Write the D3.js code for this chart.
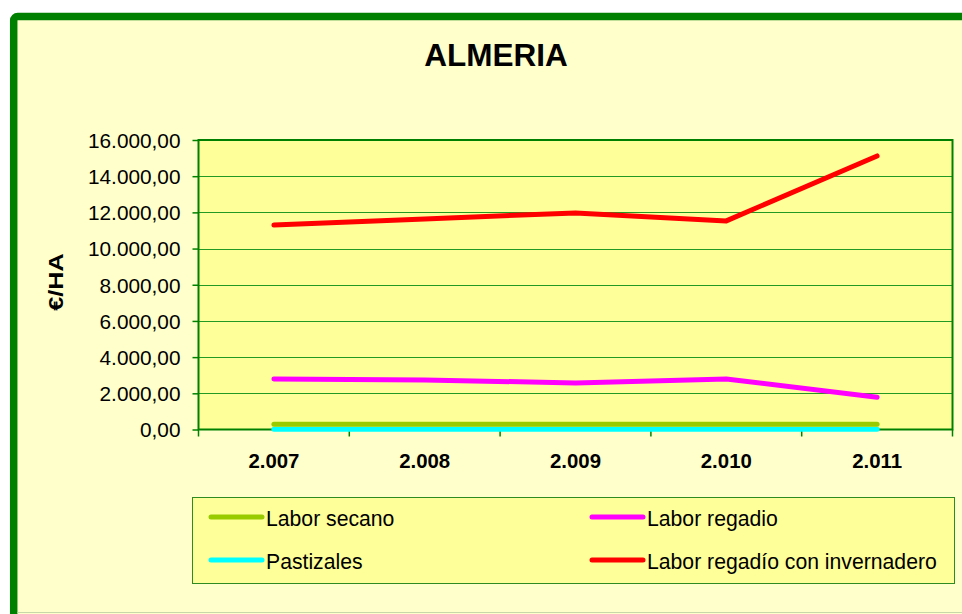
<!DOCTYPE html>
<html>
<head>
<meta charset="utf-8">
<script src="https://cdn.jsdelivr.net/npm/d3@7"></script>
<style>
  body { margin: 0; background: #fff; }
  text { font-family: "Liberation Sans", Arial, sans-serif; fill: #000; }
</style>
</head>
<body>
<svg class="chart"></svg>
<script>
var years = ["2.007", "2.008", "2.009", "2.010", "2.011"];
var laborSecano = [290, 290, 290, 290, 290];
var laborRegadio = [2790, 2740, 2570, 2790, 1780];
var pastizales = [20, 20, 20, 20, 20];
var invernadero = [11300, 11640, 11970, 11530, 15120];
var seriesNames = ["Labor secano", "Labor regadio", "Pastizales", "Labor regadío con invernadero"];
var seriesColors = ["#99CC00", "#FF00FF", "#00FFFF", "#FF0000"];
var yTicks = [0, 2000, 4000, 6000, 8000, 10000, 12000, 14000, 16000];

// draw order: cyan first so green sits above it like the original
var series = [
  {name: seriesNames[2], color: seriesColors[2], values: pastizales},
  {name: seriesNames[0], color: seriesColors[0], values: laborSecano},
  {name: seriesNames[1], color: seriesColors[1], values: laborRegadio},
  {name: seriesNames[3], color: seriesColors[3], values: invernadero}
];

var width = 962,
    height = 614;

var chart = d3.select(".chart")
    .attr("width", width)
    .attr("height", height);

// outer frame
chart.append("rect")
  .attr("x", 13.7).attr("y", 16.5)
  .attr("width", 1000).attr("height", 700)
  .attr("rx", 4)
  .attr("fill", "#FFFFCC")
  .attr("stroke", "#008000")
  .attr("stroke-width", 7.5);

chart.append("line")
  .attr("x1", 17.5).attr("x2", width)
  .attr("y1", 612.5).attr("y2", 612.5)
  .attr("stroke", "#C8D8A8")
  .attr("stroke-width", 1);

var plot = {left: 198.5, top: 140, right: 952.5, bottom: 429.5};

var x = d3.scaleBand()
  .domain(years)
  .range([plot.left, plot.right]);

var y = d3.scaleLinear()
  .domain([0, 16000])
  .range([plot.bottom, plot.top]);

chart.append("rect")
  .attr("x", plot.left).attr("y", plot.top)
  .attr("width", plot.right - plot.left)
  .attr("height", plot.bottom - plot.top)
  .attr("fill", "#FFFF99");

// gridlines
chart.append("g")
  .selectAll("line")
  .data(yTicks.slice(1))
  .enter().append("line")
  .attr("x1", plot.left).attr("x2", plot.right)
  .attr("y1", function(d) { return Math.round(y(d)) + 0.5; })
  .attr("y2", function(d) { return Math.round(y(d)) + 0.5; })
  .attr("stroke", "#229922")
  .attr("stroke-width", 1);

chart.append("rect")
  .attr("x", plot.left).attr("y", plot.top)
  .attr("width", plot.right - plot.left)
  .attr("height", plot.bottom - plot.top)
  .attr("fill", "none")
  .attr("stroke", "#008000")
  .attr("stroke-width", 2);

var fmt = function(d) {
  return d3.format(",.2f")(d).replace(/,/g, "#").replace(".", ",").replace(/#/g, ".");
};

var y_axis = d3.axisLeft(y)
  .tickValues(yTicks)
  .tickSize(6)
  .tickPadding(12)
  .tickFormat(fmt);

var gy = chart.append("g")
  .attr("transform", "translate(" + plot.left + ",0)")
  .call(y_axis);
gy.select(".domain").remove();
gy.selectAll(".tick line").attr("stroke", "#008000").attr("stroke-width", 1.5);
gy.selectAll(".tick text")
  .attr("font-family", "Liberation Sans, Arial, sans-serif")
  .attr("font-size", 20.8)
  .attr("dy", "0.35em")
  .attr("fill", "#000");

var x_axis = d3.axisBottom(x)
  .tickSize(0)
  .tickPadding(24);

var gx = chart.append("g")
  .attr("transform", "translate(0," + plot.bottom + ")")
  .call(x_axis);
gx.select(".domain").remove();
gx.selectAll(".tick text")
  .attr("font-family", "Liberation Sans, Arial, sans-serif")
  .attr("font-size", 20.4)
  .attr("font-weight", "bold")
  .attr("fill", "#000");

// category boundary ticks below the axis
chart.append("g")
  .selectAll("line")
  .data(years)
  .enter().append("line")
  .attr("x1", function(d) { return x(d); })
  .attr("x2", function(d) { return x(d); })
  .attr("y1", plot.bottom).attr("y2", plot.bottom + 7)
  .attr("stroke", "#008000").attr("stroke-width", 1.5);
chart.append("line")
  .attr("x1", plot.right).attr("x2", plot.right)
  .attr("y1", plot.bottom).attr("y2", plot.bottom + 7)
  .attr("stroke", "#008000").attr("stroke-width", 1.5);

var line = d3.line()
  .x(function(d, i) { return x(years[i]) + x.bandwidth() / 2; })
  .y(function(d) { return y(d); });

chart.append("g")
  .selectAll("path")
  .data(series)
  .enter().append("path")
  .attr("d", function(d) { return line(d.values); })
  .attr("fill", "none")
  .attr("stroke", function(d) { return d.color; })
  .attr("stroke-width", 5)
  .attr("stroke-linecap", "round")
  .attr("stroke-linejoin", "round");

// title
chart.append("text")
  .attr("x", 496).attr("y", 65.5)
  .attr("text-anchor", "middle")
  .attr("font-size", 31.5)
  .attr("font-weight", "bold")
  .text("ALMERIA");

// y label
chart.append("text")
  .attr("transform", "translate(63,282) rotate(-90) scale(1.2,1)")
  .attr("text-anchor", "middle")
  .attr("font-size", 21)
  .attr("font-weight", "bold")
  .text("€/HA");

// legend
chart.append("rect")
  .attr("x", 192.5).attr("y", 497.5)
  .attr("width", 762).attr("height", 86)
  .attr("fill", "#FFFF99")
  .attr("stroke", "#2E8B22")
  .attr("stroke-width", 1);

var legendItems = [0, 1, 2, 3];
var legend = chart.append("g")
  .selectAll("g")
  .data(legendItems)
  .enter().append("g")
  .attr("transform", function(d) {
    return "translate(" + (d % 2 === 0 ? 211 : 592) + "," + (d < 2 ? 517 : 560) + ")";
  });

legend.append("line")
  .attr("x1", 0).attr("x2", 51)
  .attr("stroke", function(d) { return seriesColors[d]; })
  .attr("stroke-width", 5)
  .attr("stroke-linecap", "round");

legend.append("text")
  .attr("x", 55).attr("y", 8.5)
  .attr("font-size", 21.2)
  .text(function(d) { return seriesNames[d]; });
</script>
</body>
</html>
